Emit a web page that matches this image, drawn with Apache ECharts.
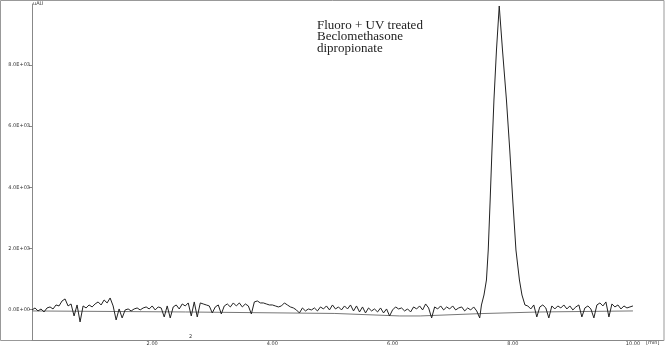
<!DOCTYPE html>
<html>
<head>
<meta charset="utf-8">
<script src="https://cdn.jsdelivr.net/npm/echarts@6/dist/echarts.min.js"></script>
<style>
html,body{margin:0;padding:0;background:#fff;}
#chart{width:665px;height:346px;}
</style>
</head>
<body>
<div id="chart"></div>
<script>
// Chromatogram values (uAU)
const SAMPLE_STEP = 0.05; // min
const preStart = 0.0;
const preValues = [
  -16,49,-49,16,-82,49,82,16,147,115,
  278,344,115,180,-213,147,-409,115,49,147,
  82,180,246,147,311,213,376,115,-344,16,
  -278,-16,16,-49,16,49,-16,49,82,16,
  115,-16,82,49,-246,115,-278,82,147,16,
  180,115,213,-213,246,-246,213,180,147,115,
  -115,82,147,-147,115,180,82,213,115,213,
  82,180,115,-147,246,278,213,213,180,147,
  147,115,82,115,213,147,82,49,-16,-115,
  49,-49,16,-16,49,-49,82,16,115,-16,
  147,16,82,-16,115,16,147,-49,115,-82,
  82,-115,49,-49,16,-82,49,-115,16,-213,
  -16,82,16,49,-49,16,-82,82,16,115,
  -16,180,49,-278,82,16,115,-16,82,16,
  115,-16,49,82,-49,49,-16,82,-49,-278
];
const peakTimes  = [7.479,7.521,7.562,7.592,7.624,7.654,7.687,7.729,7.775,7.829,7.895,7.950,8.000,8.053,8.111,8.153,8.203];
const peakValues = [146,473,964,1946,3583,5220,6857,8494,9935,8494,6857,5220,3583,1946,964,473,146];
const postStart = 8.25;
const postValues = [
  115,16,147,-246,82,147,49,-278,115,16,
  115,49,147,16,115,-16,82,147,-246,49,
  115,16,-278,147,213,115,246,-246,180,82,
  147,16,115,49,82,115
];
const baselineTimes  = [0, 2.55, 5.04, 6.12, 6.46, 7.45, 8.45, 10.0];
const baselineValues = [-49, -82, -131, -213, -213, -137, -82, -49];
const yTickValues = [0, 2000, 4000, 6000, 8000];
const xTickValues = [2, 4, 6, 8, 10];
const annotationLines = ['Fluoro + UV treated', 'Beclomethasone', 'dipropionate'];

const signal = [];
preValues.forEach((v, i) => signal.push([+(preStart + i * SAMPLE_STEP).toFixed(3), v]));
peakTimes.forEach((t, i) => signal.push([t, peakValues[i]]));
postValues.forEach((v, i) => signal.push([+(postStart + i * SAMPLE_STEP).toFixed(3), v]));
const baseline = baselineTimes.map((t, i) => [t, baselineValues[i]]);

const chart = echarts.init(document.getElementById('chart'), null, {renderer: 'canvas'});
chart.setOption({
  animation: false,
  backgroundColor: '#fff',
  grid: {left: 32, top: 4, right: 2, bottom: 6, containLabel: false},
  xAxis: {
    type: 'value', min: 0, max: 10.5,
    axisLine: {show: true, onZero: false, lineStyle: {color: '#888', width: 1}},
    axisTick: {show: false},
    splitLine: {show: false},
    axisLabel: {
      customValues: xTickValues, margin: 1, fontSize: 5, color: '#333',
      fontFamily: 'DejaVu Sans',
      formatter: v => v.toFixed(2)
    }
  },
  yAxis: {
    type: 'value', min: -1000, max: 10000,
    axisLine: {show: true, onZero: false, lineStyle: {color: '#888', width: 1}},
    axisTick: {show: true, customValues: yTickValues, length: 3, lineStyle: {color: '#888'}},
    splitLine: {show: false},
    axisLabel: {
      customValues: yTickValues, margin: 2, fontSize: 5, color: '#333',
      fontFamily: 'DejaVu Sans',
      formatter: v => v.toExponential(1).replace(/e\+(\d)$/, 'E+0$1')
    }
  },
  series: [
    {type: 'line', data: baseline, symbol: 'none', silent: true,
     lineStyle: {color: '#777', width: 1}, z: 1},
    {type: 'line', data: signal, symbol: 'none', silent: true,
     lineStyle: {color: '#222', width: 1}, z: 2}
  ],
  graphic: [
    {type: 'rect', shape: {x: 0.5, y: 0.5, width: 663.5, height: 340}, silent: true,
     style: {fill: 'none', stroke: '#999', lineWidth: 1}, z: -1},
    {type: 'text', left: 33, top: 1, silent: true,
     style: {text: 'uAU', fontSize: 5, fill: '#333', fontFamily: 'DejaVu Sans'}},
    {type: 'text', left: 646, top: 340, silent: true,
     style: {text: '[min]', fontSize: 5, fill: '#333', fontFamily: 'DejaVu Sans'}},
    {type: 'text', left: 189, top: 334, silent: true,
     style: {text: '2', fontSize: 5, fill: '#333', fontFamily: 'DejaVu Sans'}},
    {type: 'text', left: 317, top: 19, silent: true,
     style: {text: annotationLines.join('\n'), fontSize: 13, lineHeight: 11.5,
             fill: '#222', fontFamily: 'Liberation Serif'}}
  ]
});
</script>
</body>
</html>
